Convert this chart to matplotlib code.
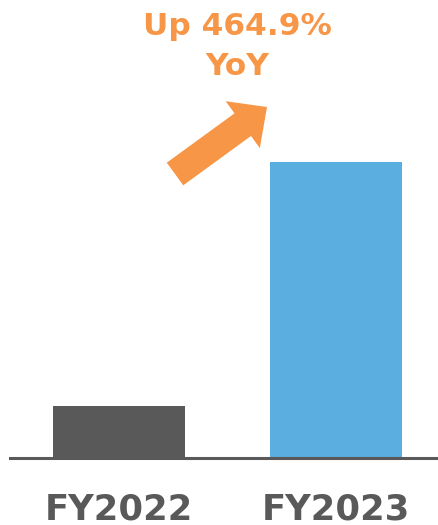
import matplotlib
matplotlib.use('Agg')
import matplotlib.pyplot as plt
from matplotlib.patches import FancyArrow

years = ['FY2022', 'FY2023']
values = [1.0, 5.649]
colors = ['#595959', '#5BAEE0']
note = 'Up 464.9%\nYoY'

W, H = 438, 525
fig = plt.figure(figsize=(W / 100, H / 100), dpi=100)

# bar axes: baseline at y=458px, spans x 10..438
ax = fig.add_axes([10 / W, (H - 458) / H, (W - 10) / W, 458 / H])
ax.bar(range(len(years)), values, width=0.608, color=colors, zorder=3)
ax.set_xlim(-0.502, 1.47)
ax.set_ylim(0, values[1] * 458 / 296)
for s in ['top', 'right', 'left']:
    ax.spines[s].set_visible(False)
ax.spines['bottom'].set_color('#595959')
ax.spines['bottom'].set_linewidth(2.2)
ax.spines['bottom'].set_zorder(4)
ax.set_yticks([])
ax.set_xticks(range(len(years)))
ax.set_xticklabels(years, fontsize=25.5, fontweight='bold', color='#595959')
ax.tick_params(axis='x', length=0, pad=25)

# overlay in pixel coords for arrow and note
ov = fig.add_axes([0, 0, 1, 1])
ov.set_xlim(0, W)
ov.set_ylim(H, 0)
ov.axis('off')
ov.patch.set_alpha(0)
ov.add_patch(FancyArrow(175, 174, 92, -67, width=28, head_width=58,
                        head_length=30, length_includes_head=True,
                        color='#F79646', lw=0))
line1, line2 = note.split('\n')
ov.text(237, 35, line1, ha='center', va='baseline',
        fontsize=22.5, fontweight='bold', color='#F79646')
ov.text(237, 75, line2, ha='center', va='baseline',
        fontsize=22.5, fontweight='bold', color='#F79646')

fig.savefig('out.png', dpi=100)
